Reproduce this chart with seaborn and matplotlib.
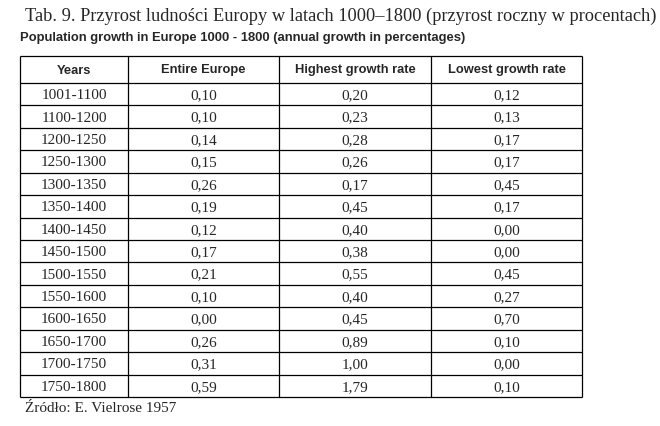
import matplotlib
matplotlib.use("Agg")
import matplotlib.pyplot as plt
import seaborn as sns

# ----------------------------------------------------------
# Table data (annual growth in percent)
# ----------------------------------------------------------
headers = ["Years", "Entire Europe", "Highest growth rate", "Lowest growth rate"]
years = ["1001-1100", "1100-1200", "1200-1250", "1250-1300", "1300-1350",
         "1350-1400", "1400-1450", "1450-1500", "1500-1550", "1550-1600",
         "1600-1650", "1650-1700", "1700-1750", "1750-1800"]
entire_europe = [0.10, 0.10, 0.14, 0.15, 0.26, 0.19, 0.12, 0.17, 0.21, 0.10,
                 0.00, 0.26, 0.31, 0.59]
highest_rate = [0.20, 0.23, 0.28, 0.26, 0.17, 0.45, 0.40, 0.38, 0.55, 0.40,
                0.45, 0.89, 1.00, 1.79]
lowest_rate = [0.12, 0.13, 0.17, 0.17, 0.45, 0.17, 0.00, 0.00, 0.45, 0.27,
               0.70, 0.10, 0.00, 0.10]

title_pl = "Tab. 9. Przyrost ludności Europy w latach 1000–1800 (przyrost roczny w procentach)"
title_en = "Population growth in Europe 1000 - 1800 (annual growth in percentages)"
source = "Źródło: E. Vielrose 1957"

sns.set_style("white")
serif = ["Liberation Serif", "DejaVu Serif"]
sans = ["Liberation Sans", "DejaVu Sans"]


def fmt(v):
    # polish decimal comma
    return f"{v:.2f}".replace(".", ",")


fig = plt.figure(figsize=(6.6, 4.27), dpi=100)
ax = fig.add_axes([0, 0, 1, 1])
ax.set_xlim(0, 660)
ax.set_ylim(427, 0)
ax.axis("off")

# table grid
col_edges = [20, 128, 279, 431, 582]
top, head_bottom, bottom = 57, 84, 398
row_h = (bottom - head_bottom) / len(years)
row_edges = [top] + [head_bottom + i * row_h for i in range(len(years) + 1)]

ax.hlines(row_edges, col_edges[0], col_edges[-1], color="black", lw=0.9)
ax.vlines(col_edges, top, bottom, color="black", lw=0.9)

centers = [(a + b) / 2 for a, b in zip(col_edges[:-1], col_edges[1:])]

for cx, h in zip(centers, headers):
    ax.text(cx, (top + head_bottom) / 2, h, ha="center", va="center",
            family=sans, weight="bold", fontsize=9.3)

for i, (yr, e, hi, lo) in enumerate(zip(years, entire_europe, highest_rate, lowest_rate)):
    cy = head_bottom + (i + 0.5) * row_h
    for cx, s in zip(centers, [yr, fmt(e), fmt(hi), fmt(lo)]):
        ax.text(cx, cy + 0.5, s, ha="center", va="center", family=serif, fontsize=11)

ax.text(25, 16, title_pl, ha="left", va="center", family=serif, fontsize=13.2)
ax.text(20, 38, title_en, ha="left", va="center", family=sans, weight="bold", fontsize=9.4)
ax.text(25, 409, source, ha="left", va="center", family=serif, fontsize=11)

plt.savefig("out.png", dpi=100)
